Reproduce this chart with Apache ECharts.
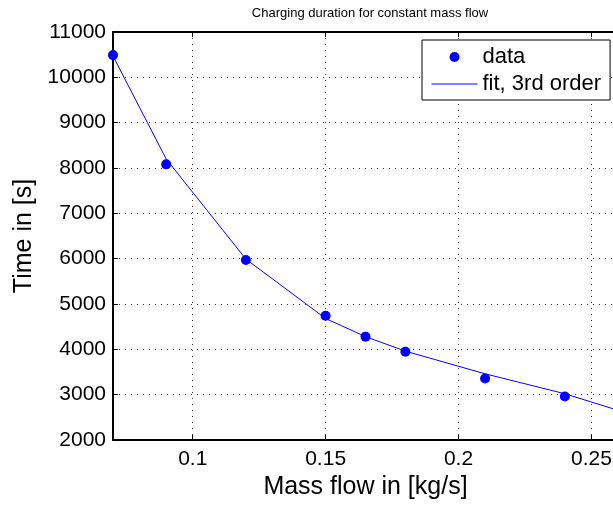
<!DOCTYPE html>
<html>
<head>
<meta charset="utf-8">
<script src="https://cdn.jsdelivr.net/npm/echarts@6/dist/echarts.min.js"></script>
<style>
html,body{margin:0;padding:0;background:#fff;}
#chart{width:613px;height:505px;}
</style>
</head>
<body>
<div id="chart"></div>
<script>
// Measured data
var dataX = [0.07, 0.09, 0.12, 0.15, 0.165, 0.18, 0.21, 0.24];
var dataY = [10490, 8080, 5970, 4740, 4280, 3945, 3355, 2960];
// 3rd order fit curve
var fitX = [0.07, 0.09, 0.12, 0.15, 0.165, 0.18, 0.21, 0.24, 0.26];
var fitY = [10470, 8200, 5990, 4680, 4280, 3960, 3460, 3020, 2655];
// Tick labels
var xTicks = [0.1, 0.15, 0.2, 0.25];
var yTicks = [2000, 3000, 4000, 5000, 6000, 7000, 8000, 9000, 10000, 11000];

var FONT = '"Liberation Sans", Arial, Helvetica, sans-serif';
var chart = echarts.init(document.getElementById('chart'), null, {renderer: 'canvas'});

function pairs(xs, ys) { return xs.map(function (x, i) { return [x, ys[i]]; }); }

var gridLine = {show: true, lineStyle: {color: '#333', width: 1, type: [1, 5]}};

chart.setOption({
  animation: false,
  backgroundColor: '#fff',
  title: {
    text: 'Charging duration for constant mass flow',
    left: 365, top: 2, textAlign: 'center',
    textStyle: {fontFamily: FONT, fontSize: 13, fontWeight: 'normal', color: '#000'}
  },
  grid: {left: 113, top: 32, width: 505, height: 408, containLabel: false, outerBoundsMode: 'none'},
  legend: {
    orient: 'vertical', left: 422, top: 40, align: 'left',
    padding: [5, 9, 4, 9], itemGap: 3, itemWidth: 46, itemHeight: 10, itemTextGap: 5,
    borderColor: '#000', borderWidth: 1, backgroundColor: '#fff',
    textStyle: {fontFamily: FONT, fontSize: 22, color: '#000', lineHeight: 24},
    data: [
      {name: 'data', icon: 'circle', itemStyle: {opacity: 1, color: '#0000ff'}},
      {name: 'fit, 3rd order', itemStyle: {opacity: 0}, lineStyle: {width: 1, color: '#0000ff'}}
    ]
  },
  xAxis: [{
    type: 'value', min: 0.07, max: 0.26,
    name: 'Mass flow in [kg/s]', nameLocation: 'middle', nameGap: 31,
    nameTextStyle: {fontFamily: FONT, fontSize: 25, color: '#000'},
    axisLine: {show: true, onZero: false, lineStyle: {color: '#000', width: 2}},
    axisTick: {show: true, inside: true, length: 5, customValues: xTicks, lineStyle: {color: '#000'}},
    axisLabel: {customValues: xTicks, fontFamily: FONT, fontSize: 21, color: '#000', margin: 9,
      formatter: function (v) { return String(+v.toFixed(3)); }},
    splitLine: gridLine
  }, {
    type: 'value', position: 'top', min: 0.07, max: 0.26,
    axisLine: {show: true, onZero: false, lineStyle: {color: '#000', width: 2}},
    axisTick: {show: true, inside: true, length: 5, customValues: xTicks, lineStyle: {color: '#000'}},
    axisLabel: {show: false, customValues: xTicks},
    splitLine: {show: false}
  }],
  yAxis: {
    type: 'value', min: 2000, max: 11000, interval: 1000,
    name: 'Time in [s]', nameLocation: 'middle', nameGap: 76,
    nameTextStyle: {fontFamily: FONT, fontSize: 25, color: '#000'},
    axisLine: {show: true, lineStyle: {color: '#000', width: 2}},
    axisTick: {show: true, inside: true, length: 5, lineStyle: {color: '#000'}},
    axisLabel: {fontFamily: FONT, fontSize: 21, color: '#000', margin: 7,
      formatter: function (v) { return yTicks.indexOf(v) >= 0 ? String(v) : ''; }},
    splitLine: gridLine
  },
  series: [{
    name: 'data', type: 'scatter', symbol: 'circle', symbolSize: 10,
    itemStyle: {color: '#0000ff', opacity: 1}, data: pairs(dataX, dataY), z: 2, clip: true
  }, {
    name: 'fit, 3rd order', type: 'line', showSymbol: false, symbol: 'none',
    lineStyle: {color: '#0000ff', width: 1}, itemStyle: {color: '#0000ff'},
    data: pairs(fitX, fitY), z: 3, clip: true
  }]
});
</script>
</body>
</html>
